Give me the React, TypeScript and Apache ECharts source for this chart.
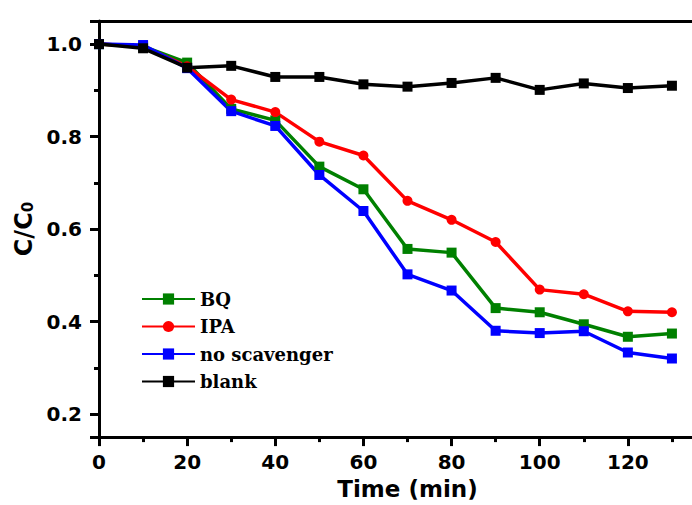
import React, { useEffect, useRef } from "react";
import * as echarts from "echarts";

const times = [0, 10, 20, 30, 40, 50, 60, 70, 80, 90, 100, 110, 120, 130];
const bq = [1.0, 0.995, 0.96, 0.86, 0.835, 0.735, 0.686, 0.557, 0.549, 0.429, 0.42, 0.394, 0.367, 0.374];
const ipa = [1.0, 0.995, 0.952, 0.88, 0.853, 0.789, 0.759, 0.661, 0.62, 0.572, 0.469, 0.459, 0.422, 0.42];
const noScavenger = [1.0, 0.998, 0.948, 0.855, 0.823, 0.717, 0.639, 0.502, 0.467, 0.38, 0.375, 0.379, 0.333, 0.32];
const blank = [1.0, 0.991, 0.949, 0.953, 0.929, 0.929, 0.913, 0.908, 0.916, 0.927, 0.901, 0.915, 0.905, 0.91];

const seriesNames = ["BQ", "IPA", "no scavenger", "blank"];
const seriesColors = ["#008000", "#ff0000", "#0000ff", "#000000"];
const seriesSymbols = ["rect", "circle", "rect", "rect"];
const seriesValues = [bq, ipa, noScavenger, blank];

const labelFont = "DejaVu Sans";

export default function App() {
  const ref = useRef<HTMLDivElement>(null);
  useEffect(() => {
    if (!ref.current) return;
    const chart = echarts.init(ref.current, null, { renderer: "svg" });
    const axisCommon = {
      axisLine: { show: true, onZero: false, lineStyle: { color: "#000", width: 3 } },
      axisTick: { show: true, inside: false, length: 9, lineStyle: { color: "#000", width: 3 } },
      minorTick: { show: true, splitNumber: 2, length: 5, lineStyle: { color: "#000", width: 3 } },
      splitLine: { show: false },
      minorSplitLine: { show: false },
    };
    chart.setOption({
      animation: false,
      backgroundColor: "#ffffff",
      grid: { left: 99, top: 21, right: 4, bottom: 63, containLabel: false },
      legend: {
        orient: "vertical",
        left: 141,
        top: 290,
        padding: 0,
        itemWidth: 53,
        itemHeight: 14,
        itemGap: 9.5,
        data: seriesNames,
        textStyle: {
          fontFamily: "DejaVu Serif",
          fontWeight: "bold",
          fontSize: 18,
          lineHeight: 18,
          color: "#000",
        },
      },
      xAxis: [
        {
          type: "value",
          min: 0,
          max: 140,
          interval: 20,
          position: "bottom",
          name: "Time (min)",
          nameLocation: "middle",
          nameGap: 38,
          nameTextStyle: { fontFamily: labelFont, fontWeight: "bold", fontSize: 23, color: "#000" },
          ...axisCommon,
          axisLabel: {
            margin: 15,
            fontFamily: labelFont,
            fontWeight: "bold",
            fontSize: 20,
            color: "#000",
            showMaxLabel: false,
          },
        },
        {
          type: "value",
          min: 0,
          max: 140,
          position: "top",
          axisLine: { show: true, lineStyle: { color: "#000", width: 3 } },
          axisTick: { show: false },
          axisLabel: { show: false },
          splitLine: { show: false },
        },
      ],
      yAxis: {
        type: "value",
        min: 0.15,
        max: 1.05,
        minInterval: 0.2,
        maxInterval: 0.2,
        splitNumber: 4,
        name: "C/C{sub|0}",
        nameLocation: "middle",
        nameRotate: 90,
        nameGap: 58,
        nameTextStyle: {
          fontFamily: labelFont,
          fontWeight: "bold",
          fontSize: 24,
          color: "#000",
          rich: {
            sub: { fontFamily: labelFont, fontWeight: "bold", fontSize: 15, verticalAlign: "bottom", padding: [9, 0, 0, 0] },
          },
        },
        ...axisCommon,
        axisLabel: {
          margin: 17,
          fontFamily: labelFont,
          fontWeight: "bold",
          fontSize: 20,
          color: "#000",
          showMinLabel: false,
          showMaxLabel: false,
          formatter: (v: number) => v.toFixed(1),
        },
      },
      series: seriesNames.map((name, i) => ({
        name,
        type: "line",
        data: times.map((t, j) => [t, seriesValues[i][j]]),
        symbol: seriesSymbols[i],
        symbolSize: 10,
        showSymbol: true,
        lineStyle: { width: 3.5, color: seriesColors[i] },
        itemStyle: { color: seriesColors[i] },
        clip: false,
      })),
    });
    return () => chart.dispose();
  }, []);
  return (
    <div style={{ position: "fixed", left: 0, top: 0, width: 692, height: 505, background: "#fff", overflow: "hidden" }}>
      <div ref={ref} style={{ position: "absolute", left: 0, top: 0, width: 720, height: 505 }} />
    </div>
  );
}
